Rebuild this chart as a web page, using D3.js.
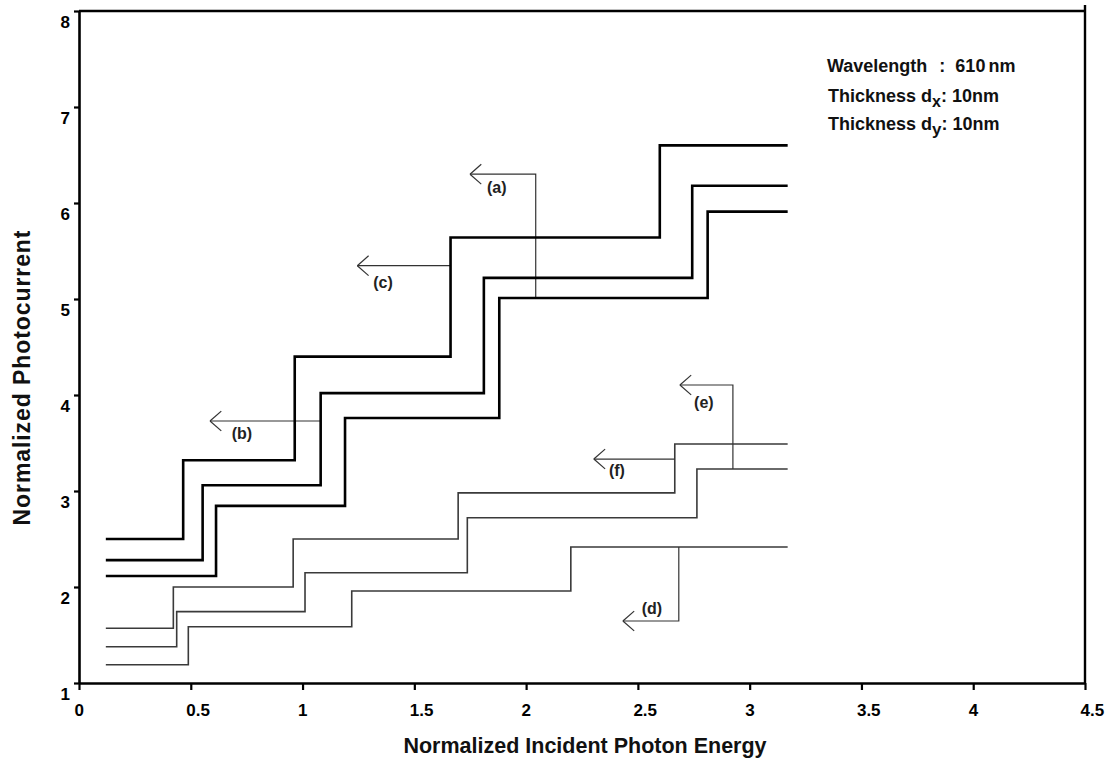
<!DOCTYPE html>
<html>
<head>
<meta charset="utf-8">
<script src="https://cdn.jsdelivr.net/npm/d3@7"></script>
<style>
  html, body { margin: 0; padding: 0; background: #fff; }
  svg { display: block; font-family: "Liberation Sans", Arial, sans-serif; }
</style>
</head>
<body>
<svg id="chart" width="1114" height="758"></svg>
<script>
// Axis ticks
const xTicks = [0, 0.5, 1, 1.5, 2, 2.5, 3, 3.5, 4, 4.5];
const yTicks = [1, 2, 3, 4, 5, 6, 7, 8];

// Every staircase runs over the same energy span
const energyStart = 0.12;
const energyEnd = 3.17;

// Thick curves: step energies and plateau photocurrents
const stepsA = [0.613, 1.19, 1.88, 2.812];
const levelsA = [2.115, 2.845, 3.76, 5.01, 5.91];
const stepsB = [0.553, 1.081, 1.811, 2.743];
const levelsB = [2.28, 3.06, 4.02, 5.22, 6.18];
const stepsC = [0.466, 0.965, 1.662, 2.598];
const levelsC = [2.50, 3.32, 4.40, 5.64, 6.60];

// Thin curves
const stepsD = [0.489, 1.22, 2.2];
const levelsD = [1.19, 1.586, 1.958, 2.417];
const stepsE = [0.437, 1.011, 1.737, 2.764];
const levelsE = [1.378, 1.743, 2.149, 2.722, 3.229];
const stepsF = [0.422, 0.958, 1.696, 2.665];
const levelsF = [1.57, 2.00, 2.50, 2.98, 3.49];

// Callout leaders (energy, photocurrent) and label anchors
const calloutNames = ["(a)", "(b)", "(c)", "(d)", "(e)", "(f)"];
const calloutPaths = [
  [[2.043, 5.01], [2.043, 6.30], [1.749, 6.30]],
  [[1.081, 3.729], [0.586, 3.729]],
  [[1.662, 5.347], [1.245, 5.347]],
  [[2.683, 2.417], [2.683, 1.646], [2.433, 1.646]],
  [[2.925, 3.229], [2.925, 4.104], [2.688, 4.104]],
  [[2.665, 3.333], [2.303, 3.333]]
];
const calloutLabels = [
  [1.869, 6.167], [0.729, 3.604], [1.360, 5.177],
  [2.563, 1.781], [2.795, 3.927], [2.406, 3.219]
];

const svg = d3.select("#chart");
const x = d3.scaleLinear().domain([0, 4.5]).range([79, 1085]);
const y = d3.scaleLinear().domain([1, 8]).range([683, 11]);

const stair = (steps, levels) => {
  const pts = [[energyStart, levels[0]]];
  steps.forEach((s, i) => pts.push([s, levels[i + 1]]));
  pts.push([energyEnd, levels[levels.length - 1]]);
  return pts;
};
const line = d3.line().x(d => x(d[0])).y(d => y(d[1])).curve(d3.curveStepAfter);
const poly = d3.line().x(d => x(d[0])).y(d => y(d[1]));

// Thin staircases
[[stepsD, levelsD], [stepsE, levelsE], [stepsF, levelsF]].forEach(([s, l]) => {
  svg.append("path").attr("d", line(stair(s, l)))
    .attr("fill", "none").attr("stroke", "#3a3a3a").attr("stroke-width", 1.6);
});

// Callouts
calloutPaths.forEach((p, i) => {
  svg.append("path").attr("d", poly(p))
    .attr("fill", "none").attr("stroke", "#333").attr("stroke-width", 1.2);
  const tip = p[p.length - 1], prev = p[p.length - 2];
  const tx = x(tip[0]), ty = y(tip[1]);
  const ang = Math.atan2(y(prev[1]) - ty, x(prev[0]) - tx);
  const len = 15, spread = 0.72;
  [ang - spread, ang + spread].forEach(a => {
    svg.append("line")
      .attr("x1", tx).attr("y1", ty)
      .attr("x2", tx + len * Math.cos(a)).attr("y2", ty + len * Math.sin(a))
      .attr("stroke", "#333").attr("stroke-width", 1.2);
  });
  svg.append("text")
    .attr("x", x(calloutLabels[i][0])).attr("y", y(calloutLabels[i][1]) + 6)
    .attr("text-anchor", "middle")
    .attr("font-size", 16).attr("font-weight", "bold").attr("fill", "#222")
    .text(calloutNames[i]);
});

// Thick staircases
[[stepsA, levelsA], [stepsB, levelsB], [stepsC, levelsC]].forEach(([s, l]) => {
  svg.append("path").attr("d", line(stair(s, l)))
    .attr("fill", "none").attr("stroke", "#000").attr("stroke-width", 2.6);
});

// Frame: top and right edges
svg.append("line").attr("x1", x(0)).attr("x2", x(4.5)).attr("y1", y(8)).attr("y2", y(8))
  .attr("stroke", "#000").attr("stroke-width", 2.4);
svg.append("line").attr("x1", x(4.5)).attr("x2", x(4.5)).attr("y1", y(8) - 6).attr("y2", y(1))
  .attr("stroke", "#000").attr("stroke-width", 2.4);

// Bottom axis
const gx = svg.append("g").attr("transform", `translate(0,${y(1)})`)
  .call(d3.axisBottom(x).tickValues(xTicks).tickSize(7).tickSizeOuter(0)
    .tickFormat(d => String(d)));
gx.select(".domain").attr("stroke-width", 2.6);
gx.selectAll(".tick line").attr("stroke-width", 2.2);
gx.selectAll(".tick text").attr("font-size", 17).attr("font-weight", "bold")
  .attr("font-family", "'Liberation Sans', Arial, sans-serif")
  .attr("text-anchor", "start").attr("x", -5).attr("y", 21).attr("fill", "#000");

// Left axis
const gy = svg.append("g").attr("transform", `translate(${x(0)},0)`)
  .call(d3.axisLeft(y).tickValues(yTicks).tickSize(5).tickSizeOuter(0)
    .tickFormat(d => String(d)));
gy.select(".domain").attr("stroke-width", 2.6);
gy.selectAll(".tick line").attr("stroke-width", 2.2);
gy.selectAll(".tick text").attr("font-size", 17).attr("font-weight", "bold")
  .attr("font-family", "'Liberation Sans', Arial, sans-serif")
  .attr("x", -9).attr("dy", "0.95em").attr("fill", "#000");

// Axis titles
svg.append("text").attr("x", 585).attr("y", 753).attr("text-anchor", "middle")
  .attr("font-size", 21.5).attr("font-weight", "bold").attr("fill", "#111")
  .text("Normalized Incident Photon Energy");
svg.append("text").attr("transform", "translate(30,378) rotate(-90)")
  .attr("text-anchor", "middle")
  .attr("font-size", 23).attr("font-weight", "bold").attr("fill", "#111")
  .attr("textLength", 295).attr("lengthAdjust", "spacing")
  .text("Normalized Photocurrent");

// Simulation parameters
const info = svg.append("g").attr("font-size", 18).attr("font-weight", "bold").attr("fill", "#111");
const wl = info.append("text").attr("x", 827).attr("y", 72);
wl.append("tspan").text("Wavelength");
wl.append("tspan").attr("dx", 12).text(":");
wl.append("tspan").attr("dx", 10).text("610");
wl.append("tspan").attr("dx", 3).text("nm");
const tdx = info.append("text").attr("x", 828).attr("y", 102);
tdx.append("tspan").text("Thickness d");
tdx.append("tspan").attr("font-size", 16).attr("dy", 5).text("x");
tdx.append("tspan").attr("dy", -5).text(": 10nm");
const tdy = info.append("text").attr("x", 828).attr("y", 130);
tdy.append("tspan").text("Thickness d");
tdy.append("tspan").attr("font-size", 17).attr("dy", 5).text("y");
tdy.append("tspan").attr("dy", -5).text(": 10nm");
</script>
</body>
</html>
